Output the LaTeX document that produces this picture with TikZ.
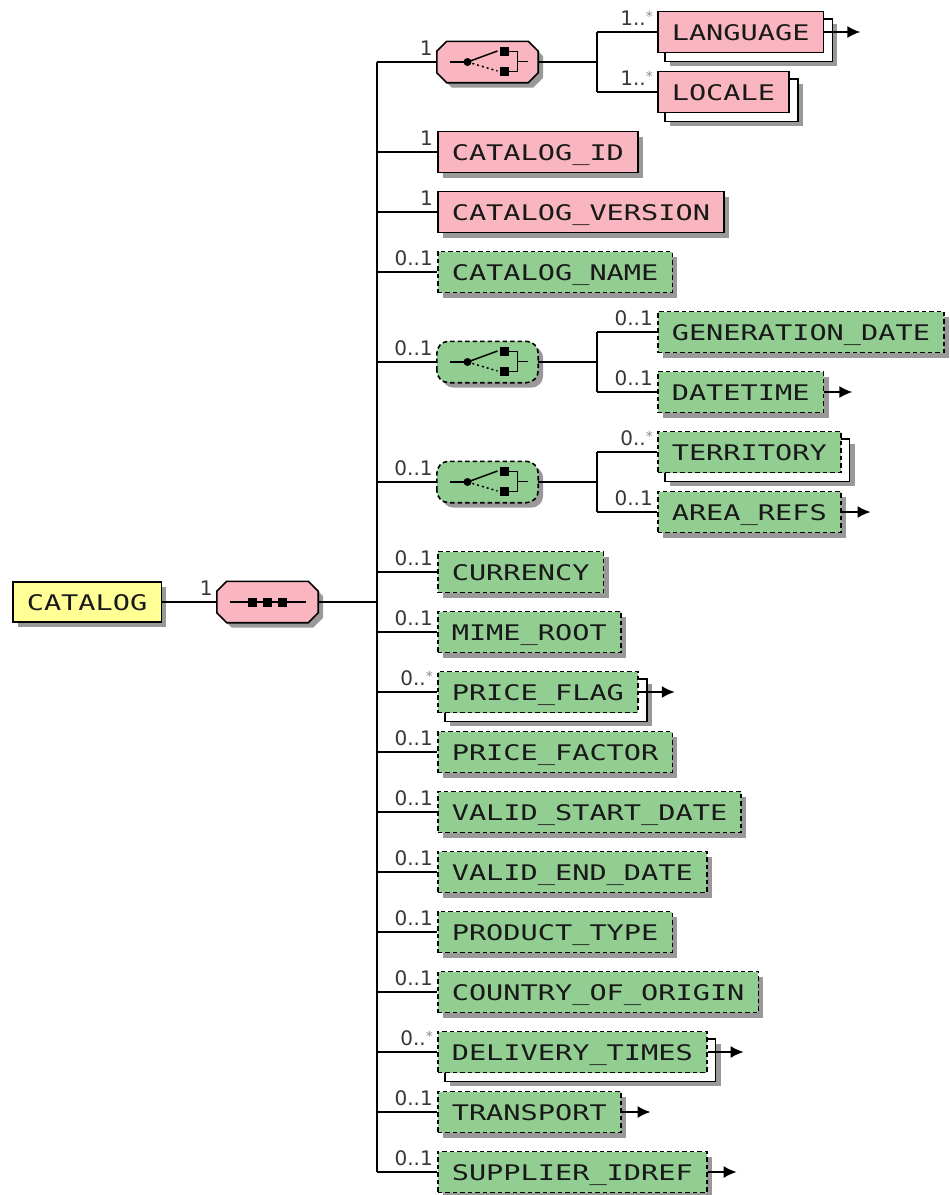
\documentclass[tikz,border=0pt]{standalone}
\usepackage{fontspec}
\usetikzlibrary{shadows,backgrounds,arrows.meta}
\newfontfamily\elfont[FakeStretch=1.33]{DejaVu Sans Mono}
\newfontfamily\cardfont{DejaVu Sans}
\definecolor{reqfill}{RGB}{250,182,192}
\definecolor{optfill}{RGB}{146,206,146}
\definecolor{rootfill}{RGB}{255,255,150}
\definecolor{inktext}{RGB}{25,25,25}
\definecolor{cardtext}{RGB}{55,55,55}

\tikzset{
  conn/.style={line width=1.6pt},
  shade5/.style={drop shadow={shadow xshift=5pt,shadow yshift=-5pt,fill=black!40,opacity=1}},
  elem/.style={rectangle, draw, line width=1.6pt, minimum height=41pt, inner xsep=14pt, inner ysep=0pt,
    text height=16pt, text depth=0pt, anchor=west,
    font=\elfont\fontsize{21.5}{24}\selectfont, text=inktext},
  req/.style={elem, fill=reqfill},
  opt/.style={elem, fill=optfill, dash pattern=on 4.5pt off 3pt},
  card/.style={anchor=base east, xshift=-4pt, yshift=7pt, inner sep=0pt,
    font=\cardfont\fontsize{20}{20}\selectfont, text=cardtext},
  backbox/.style={draw, line width=1.6pt, fill=white, shade5},
  refarrow/.style={conn, -{Latex[length=13pt,width=12pt]}},
  compnode/.style={minimum width=101pt, minimum height=41pt, inner sep=0pt},
}

% cardinality label to the left of a node
\newcommand\card[2]{\node[card] (#1-c) at (#1.west) {#2};}
\newcommand\many{\raisebox{4pt}{\color{black!45}\fontsize{14}{14}\selectfont *}}
% second frame behind a repeated element
\newcommand\backstack[1]{\begin{scope}[on background layer]
  \draw[backbox] ([xshift=8pt,yshift=-8pt]#1.south west) rectangle ([xshift=8pt,yshift=-8pt]#1.north east);
\end{scope}}
% compositor outlines
\newcommand\octbox[2]{\draw[#2] ([xshift=10pt]#1.north west) -- ([xshift=-10pt]#1.north east)
  -- ([yshift=-10pt]#1.north east) -- ([yshift=10pt]#1.south east) -- ([xshift=-10pt]#1.south east)
  -- ([xshift=10pt]#1.south west) -- ([yshift=10pt]#1.south west) -- ([yshift=-10pt]#1.north west) -- cycle;}
\newcommand\roundbox[2]{\draw[#2, rounded corners=12pt] (#1.south west) rectangle (#1.north east);}
% compositor glyphs
\newcommand\choiceglyph[1]{\begin{scope}[shift={(#1.center)}, line width=1.5pt]
  \draw (-38,0) -- (-20,0);
  \fill (-20,0) circle (4pt);
  \draw (-20,0) -- (10,-11);
  \draw[dash pattern=on 2pt off 3pt] (-20,0) -- (10,9);
  \fill (12,-15) rectangle (21,-6);
  \fill (12,5) rectangle (21,14);
  \draw (21,-10.5) -- (30,-10.5) -- (30,9.5) -- (21,9.5);
  \draw (30,-0.5) -- (40,-0.5);
\end{scope}}
\newcommand\seqglyph[1]{\begin{scope}[shift={(#1.center)}, line width=1.5pt]
  \draw (-38,0) -- (38,0);
  \foreach \sq in {-15,0,15} \fill (\sq-4.5,-4.5) rectangle (\sq+4.5,4.5);
\end{scope}}

\begin{document}
\begin{tikzpicture}[x=1pt,y=-1pt]
\useasboundingbox (0,0) rectangle (950,1195);

\coordinate (trunk) at (377,0);
\coordinate (br) at (597,0);

% root and sequence
\node[elem, fill=rootfill, shade5, minimum height=40pt] (root) at (12,602) {CATALOG};
\node[compnode] (seq) at (267.5,602) {};
\octbox{seq}{line width=1.6pt, fill=reqfill, shade5}
\seqglyph{seq}
\draw[conn] (root.east) -- (seq.west);
\card{seq}{1}
\draw[conn] (seq.east) -- (trunk |- seq.east);

% first choice
\node[compnode] (ch1) at (487.5,62) {};
\octbox{ch1}{line width=1.6pt, fill=reqfill, shade5}
\choiceglyph{ch1}
\node[req] (lang) at (657,32) {LANGUAGE};
\backstack{lang}
\node[req] (loc) at (657,92) {LOCALE};
\backstack{loc}

% second choice
\node[compnode] (ch2) at (487.5,362) {};
\roundbox{ch2}{line width=1.6pt, fill=optfill, dash pattern=on 4.5pt off 3pt, shade5}
\choiceglyph{ch2}
\node[opt, shade5] (gen) at (657,332) {GENERATION\_DATE};
\node[opt, shade5] (dt) at (657,392) {DATETIME};

% third choice
\node[compnode] (ch3) at (487.5,482) {};
\roundbox{ch3}{line width=1.6pt, fill=optfill, dash pattern=on 4.5pt off 3pt, shade5}
\choiceglyph{ch3}
\node[opt] (terr) at (657,452) {TERRITORY};
\backstack{terr}
\node[opt, shade5] (area) at (657,512) {AREA\_REFS};

% direct children
\node[req, shade5] (cid) at (437,152) {CATALOG\_ID};
\node[req, shade5] (cver) at (437,212) {CATALOG\_VERSION};
\node[opt, shade5] (cname) at (437,272) {CATALOG\_NAME};
\node[opt, shade5] (cur) at (437,572) {CURRENCY};
\node[opt, shade5] (mime) at (437,632) {MIME\_ROOT};
\node[opt] (pflag) at (437,692) {PRICE\_FLAG};
\backstack{pflag}
\node[opt, shade5] (pfac) at (437,752) {PRICE\_FACTOR};
\node[opt, shade5] (vsd) at (437,812) {VALID\_START\_DATE};
\node[opt, shade5] (ved) at (437,872) {VALID\_END\_DATE};
\node[opt, shade5] (ptype) at (437,932) {PRODUCT\_TYPE};
\node[opt, shade5] (coo) at (437,992) {COUNTRY\_OF\_ORIGIN};
\node[opt] (deliv) at (437,1052) {DELIVERY\_TIMES};
\backstack{deliv}
\node[opt, shade5] (trans) at (437,1112) {TRANSPORT};
\node[opt, shade5] (supp) at (437,1172) {SUPPLIER\_IDREF};

% trunk of the sequence
\draw[conn] (trunk |- ch1.west) -- (trunk |- supp.west);
\foreach \n in {ch1,cid,cver,cname,ch2,ch3,cur,mime,pflag,pfac,vsd,ved,ptype,coo,deliv,trans,supp}
  \draw[conn] (trunk |- \n.west) -- (\n.west);

% branches of the choices
\draw[conn] (ch1.east) -- (br |- ch1.east);
\draw[conn] (br |- lang.west) -- (br |- loc.west);
\draw[conn] (br |- lang.west) -- (lang.west);
\draw[conn] (br |- loc.west) -- (loc.west);
\draw[conn] (ch2.east) -- (br |- ch2.east);
\draw[conn] (br |- gen.west) -- (br |- dt.west);
\draw[conn] (br |- gen.west) -- (gen.west);
\draw[conn] (br |- dt.west) -- (dt.west);
\draw[conn] (ch3.east) -- (br |- ch3.east);
\draw[conn] (br |- terr.west) -- (br |- area.west);
\draw[conn] (br |- terr.west) -- (terr.west);
\draw[conn] (br |- area.west) -- (area.west);

% cardinalities
\card{ch1}{1}
\card{lang}{1..\many}
\card{loc}{1..\many}
\card{cid}{1}
\card{cver}{1}
\card{cname}{0..1}
\card{ch2}{0..1}
\card{gen}{0..1}
\card{dt}{0..1}
\card{ch3}{0..1}
\card{terr}{0..\many}
\card{area}{0..1}
\card{cur}{0..1}
\card{mime}{0..1}
\card{pflag}{0..\many}
\card{pfac}{0..1}
\card{vsd}{0..1}
\card{ved}{0..1}
\card{ptype}{0..1}
\card{coo}{0..1}
\card{deliv}{0..\many}
\card{trans}{0..1}
\card{supp}{0..1}

% references to type definitions
\foreach \n/\len in {lang/36,pflag/36,deliv/36,dt/28,area/29,trans/29,supp/29} {
  \coordinate (\n-r) at ([xshift=\len pt]\n.east);
  \draw[refarrow] (\n.east) -- (\n-r);
}
\end{tikzpicture}
\end{document}
